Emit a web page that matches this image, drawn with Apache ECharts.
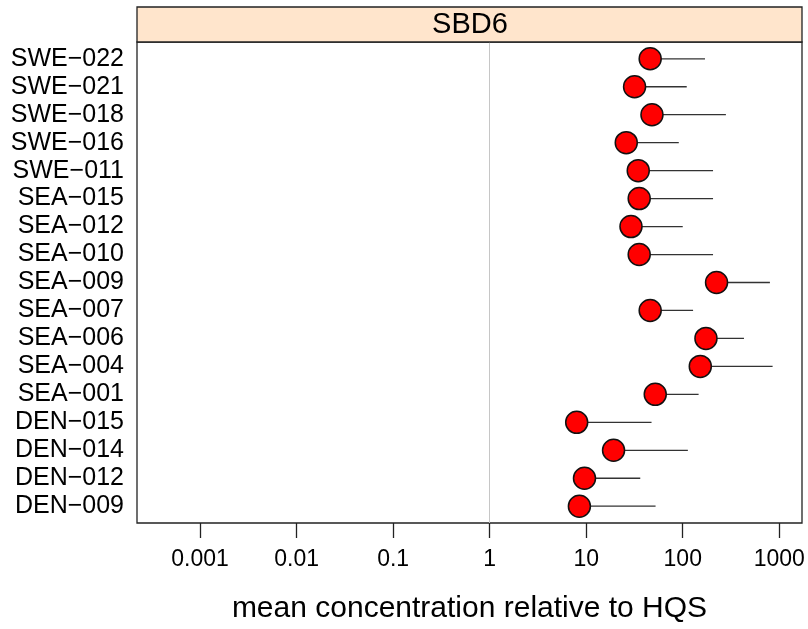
<!DOCTYPE html>
<html>
<head>
<meta charset="utf-8">
<script src="https://cdn.jsdelivr.net/npm/echarts@6/dist/echarts.min.js"></script>
<style>
  html, body { margin: 0; padding: 0; background: #fff; }
  #main { width: 808px; height: 629px; }
</style>
</head>
<body>
<div id="main"></div>
<script>
// sites, top to bottom as in the panel
var sites = ['SWE-022','SWE-021','SWE-018','SWE-016','SWE-011','SEA-015','SEA-012','SEA-010',
             'SEA-009','SEA-007','SEA-006','SEA-004','SEA-001','DEN-015','DEN-014','DEN-012','DEN-009'];
// mean concentration relative to HQS
var means = [46.0, 31.7, 48.0, 26.0, 34.6, 35.4, 29.1, 35.4, 224, 46.0, 174, 152, 51.9, 7.97, 19.2, 9.6, 8.5];
// upper end of the whisker
var uppers = [170, 110, 280, 91, 206, 206, 100, 206, 800, 128, 431, 853, 146, 47.5, 113, 36.3, 52.3];
var xTicks = [0.001, 0.01, 0.1, 1, 10, 100, 1000];
var panelName = 'SBD6';

var font = 'Liberation Sans, Arial, sans-serif';
var myChart = echarts.init(document.getElementById('main'));

var rows = sites.map(function (s, i) { return i + 1; });
var pointData = means.map(function (m, i) { return [m, rows[i]]; });
var whiskerData = means.map(function (m, i) { return [m, uppers[i], rows[i]]; });

var option = {
    animation: false,
    backgroundColor: '#fff',
    grid: {
        left: 137, right: 6, top: 42, bottom: 103,
        show: true, borderColor: '#222', borderWidth: 1.3, backgroundColor: '#fff'
    },
    xAxis: {
        type: 'log',
        min: 0.000222,
        max: 1720,
        splitLine: { show: false },
        axisLine: { show: false },
        axisTick: {
            customValues: xTicks, length: 15,
            lineStyle: { color: '#222', width: 1.3 }
        },
        axisLabel: {
            customValues: xTicks,
            formatter: function (v) { return String(v); },
            color: '#000', fontSize: 23, fontFamily: font, margin: 25
        },
        name: 'mean concentration relative to HQS',
        nameLocation: 'middle',
        nameGap: 86,
        nameTextStyle: { color: '#000', fontSize: 30, fontFamily: font, verticalAlign: 'middle' }
    },
    yAxis: {
        type: 'value',
        inverse: true,
        min: 0.4,
        max: 17.6,
        splitLine: { show: false },
        axisLine: { show: false },
        axisTick: { show: false },
        axisLabel: {
            customValues: rows,
            formatter: function (v) { return sites[v - 1].replace('-', '\u2212'); },
            color: '#000', fontSize: 25, fontFamily: font, margin: 13
        }
    },
    graphic: [
        {
            type: 'rect', z: 10,
            shape: { x: 137, y: 7, width: 665, height: 35 },
            style: { fill: '#ffe5cc', stroke: '#222', lineWidth: 1.3 }
        },
        {
            type: 'text', z: 11,
            x: 470, y: 25,
            style: {
                text: panelName, fill: '#000', fontSize: 29, fontFamily: font,
                align: 'center', verticalAlign: 'middle'
            }
        }
    ],
    series: [
        {
            type: 'custom',
            z: 2,
            silent: true,
            data: whiskerData,
            encode: { x: [0, 1], y: 2 },
            renderItem: function (params, api) {
                var p0 = api.coord([api.value(0), api.value(2)]);
                var p1 = api.coord([api.value(1), api.value(2)]);
                return {
                    type: 'line',
                    shape: { x1: p0[0], y1: p0[1], x2: p1[0], y2: p1[1] },
                    style: { stroke: '#333', lineWidth: 1.3 }
                };
            },
            markLine: {
                silent: true,
                symbol: 'none',
                label: { show: false },
                lineStyle: { color: '#c6c6c6', width: 1, type: 'solid' },
                data: [{ xAxis: 1 }]
            }
        },
        {
            type: 'scatter',
            z: 3,
            data: pointData,
            symbol: 'circle',
            symbolSize: 22,
            itemStyle: { color: '#ff0000', borderColor: '#111', borderWidth: 1.5, opacity: 1 }
        }
    ]
};
myChart.setOption(option);
</script>
</body>
</html>
